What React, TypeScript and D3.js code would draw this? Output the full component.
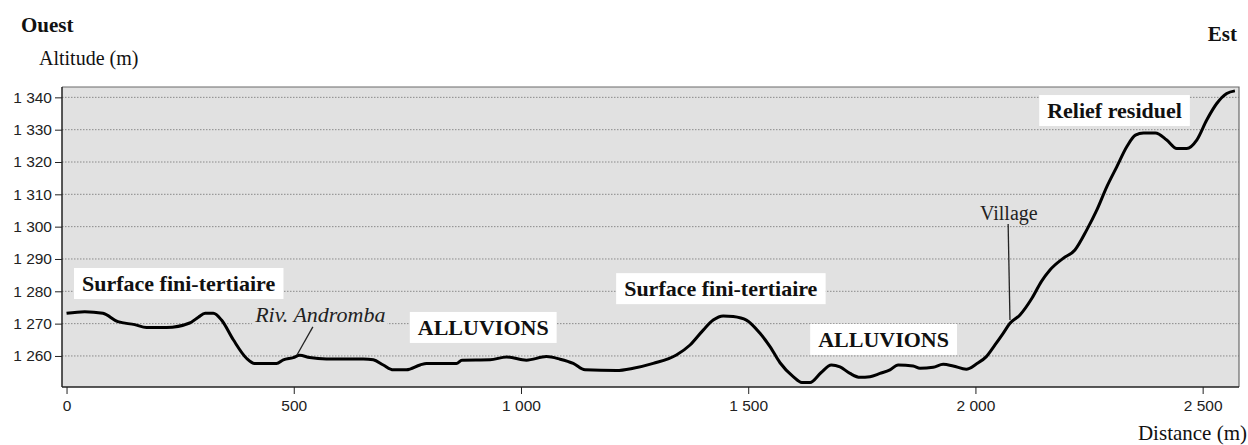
import React, { useRef, useEffect } from 'react';
import * as d3 from 'd3';

// Profile: distance (m) -> altitude (m)
const distances = [
  0, 40, 80, 113, 150, 176, 220, 271, 290, 305, 323, 341, 367, 396, 414, 462, 477, 499,
  513, 535, 572, 653, 675, 697, 719, 748, 778, 792, 858, 870, 932, 968, 1012, 1056, 1086,
  1115, 1141, 1210, 1247, 1291, 1342, 1372, 1401, 1423, 1445, 1467, 1496, 1526, 1548, 1570,
  1599, 1618, 1636, 1660, 1683, 1702, 1724, 1746, 1768, 1790, 1812, 1830, 1863, 1878, 1907,
  1929, 1951, 1980, 2002, 2024, 2043, 2061, 2076, 2098, 2125, 2145, 2164, 2193, 2219, 2245,
  2267, 2289, 2311, 2333, 2352, 2370, 2396, 2421, 2443, 2465, 2487, 2509, 2531, 2553, 2571,
];
const altitudes = [
  1273.2, 1273.7, 1273.2, 1270.6, 1269.7, 1268.8, 1268.8, 1270.2, 1272.0, 1273.2, 1273.2,
  1271.1, 1265.0, 1259.3, 1257.7, 1257.7, 1258.8, 1259.5, 1260.2, 1259.5, 1259.1, 1259.1,
  1258.8, 1257.2, 1255.7, 1255.7, 1257.2, 1257.7, 1257.7, 1258.7, 1258.8, 1259.7, 1258.7,
  1259.8, 1259.0, 1257.7, 1255.7, 1255.5, 1256.2, 1257.7, 1260.3, 1263.4, 1268.0, 1271.1,
  1272.4, 1272.2, 1271.1, 1267.0, 1262.9, 1257.9, 1253.6, 1251.8, 1251.8, 1254.8, 1257.2,
  1256.6, 1254.6, 1253.4, 1253.6, 1254.6, 1255.7, 1257.2, 1256.9, 1256.2, 1256.5, 1257.4,
  1256.9, 1255.9, 1257.5, 1259.8, 1263.4, 1267.0, 1270.1, 1272.7, 1278.0, 1283.0, 1286.6,
  1290.2, 1292.8, 1299.0, 1305.1, 1312.3, 1318.5, 1324.7, 1328.3, 1329.0, 1329.0, 1326.8,
  1324.2, 1324.2, 1326.8, 1333.0, 1338.1, 1341.2, 1342.0,
];

const altitudeTicks = [1260, 1270, 1280, 1290, 1300, 1310, 1320, 1330, 1340];
const distanceTicks = [0, 500, 1000, 1500, 2000, 2500];

// Boxed zone labels, anchored at (distance, altitude) of their text start / baseline
const zoneLabels = ['Surface fini-tertiaire', 'ALLUVIONS', 'Surface fini-tertiaire', 'ALLUVIONS', 'Relief residuel'];
const zoneDistances = [34, 773, 1227, 1654, 2158];
const zoneAltitudes = [1280.1, 1266.5, 1278.5, 1262.8, 1333.6];

// Callouts: label position and the point the pointer line goes to
const calloutLabels = ['Riv. Andromba', 'Village'];
const calloutDistances = [415, 2010];
const calloutAltitudes = [1270.5, 1302.1];
const pointerFrom = [[542, 1269], [2072, 1300.8]];
const pointerTo = [[507, 1260.3], [2076, 1271.1]];

const W = 1248;
const H = 445;
const plot = { left: 62, right: 1239, top: 87, bottom: 387 };
const plotBg = '#e1e1e1';
const serif = '"Liberation Serif", "Times New Roman", serif';
const sans = '"Liberation Sans", Arial, sans-serif';

const fmt = d3.formatLocale({ decimal: ',', thousands: ' ', grouping: [3], currency: ['', ''] }).format(',');

const App: React.FC = () => {
  const svgRef = useRef<SVGSVGElement>(null);

  useEffect(() => {
    const svg = d3.select(svgRef.current);
    svg.selectAll('*').remove();

    const x = d3.scaleLinear().domain([-10, 2580]).range([plot.left, plot.right]);
    const y = d3.scaleLinear().domain([1250.4, 1343.2]).range([plot.bottom, plot.top]);

    // plot background
    svg.append('rect')
      .attr('x', plot.left).attr('y', plot.top)
      .attr('width', plot.right - plot.left).attr('height', plot.bottom - plot.top)
      .attr('fill', plotBg);

    // dotted grid
    svg.selectAll('.grid')
      .data(altitudeTicks)
      .enter().append('line')
      .attr('class', 'grid')
      .attr('x1', plot.left).attr('x2', plot.right)
      .attr('y1', d => y(d)).attr('y2', d => y(d))
      .attr('stroke', '#8a8a8a')
      .attr('stroke-width', 1)
      .attr('stroke-dasharray', '1.5,1.5');

    // frame top / right
    svg.append('path')
      .attr('d', `M${plot.left},${plot.top}H${plot.right}V${plot.bottom}`)
      .attr('fill', 'none')
      .attr('stroke', '#6a6a6a')
      .attr('stroke-width', 1.2);

    // axes
    const yAxis = svg.append('g')
      .attr('transform', `translate(${plot.left},0)`)
      .call(d3.axisLeft(y).tickValues(altitudeTicks).tickSize(7).tickPadding(3).tickFormat(d => fmt(d as number)));
    const xAxis = svg.append('g')
      .attr('transform', `translate(0,${plot.bottom})`)
      .call(d3.axisBottom(x).tickValues(distanceTicks).tickSize(7).tickPadding(6).tickFormat(d => fmt(d as number)));

    [yAxis, xAxis].forEach(ax => {
      ax.select('.domain').attr('stroke', '#222').attr('stroke-width', 1.5);
      ax.selectAll('.tick line').attr('stroke', '#222');
      ax.selectAll('text')
        .attr('fill', '#222')
        .style('font-family', sans)
        .style('font-size', '15.5px');
    });
    xAxis.select('.domain').attr('d', `M${plot.left},0H${plot.right}`);
    yAxis.select('.domain').attr('d', `M0,${plot.top}V${plot.bottom}`);

    // profile
    const line = d3.line<number>()
      .x((_, i) => x(distances[i]))
      .y(d => y(d))
      .curve(d3.curveMonotoneX);

    svg.append('path')
      .datum(altitudes)
      .attr('fill', 'none')
      .attr('stroke', '#000')
      .attr('stroke-width', 3)
      .attr('stroke-linejoin', 'round')
      .attr('d', line);

    // callouts
    calloutLabels.forEach((t, i) => {
      const g = svg.append('g');
      const bg = g.append('rect');
      const txt = g.append('text')
        .attr('x', x(calloutDistances[i]))
        .attr('y', y(calloutAltitudes[i]))
        .attr('fill', '#222')
        .style('font-family', serif)
        .style('font-size', i === 0 ? '22px' : '20px')
        .style('font-style', i === 0 ? 'italic' : 'normal')
        .text(t);
      if (i === 0) {
        const b = (txt.node() as SVGTextElement).getBBox();
        bg.attr('x', b.x - 2).attr('y', b.y + 4).attr('width', b.width + 4).attr('height', b.height - 6)
          .attr('fill', plotBg);
      }
      g.append('line')
        .attr('x1', x(pointerFrom[i][0])).attr('y1', y(pointerFrom[i][1]))
        .attr('x2', x(pointerTo[i][0])).attr('y2', y(pointerTo[i][1]))
        .attr('stroke', '#222')
        .attr('stroke-width', 1.3);
    });

    // boxed zone labels
    zoneLabels.forEach((t, i) => {
      const g = svg.append('g');
      const box = g.append('rect').attr('fill', '#fff');
      const txt = g.append('text')
        .attr('x', x(zoneDistances[i]))
        .attr('y', y(zoneAltitudes[i]))
        .attr('fill', '#111')
        .style('font-family', serif)
        .style('font-size', '22px')
        .style('font-weight', 'bold')
        .text(t);
      const b = (txt.node() as SVGTextElement).getBBox();
      box.attr('x', b.x - 8).attr('y', b.y - 3).attr('width', b.width + 16).attr('height', b.height + 6);
    });

    // titles outside the plot
    const outer = [
      { t: 'Ouest', x: 21, y: 32, bold: true, anchor: 'start', size: 21 },
      { t: 'Altitude (m)', x: 39, y: 65, bold: false, anchor: 'start', size: 20 },
      { t: 'Est', x: 1237, y: 41, bold: true, anchor: 'end', size: 21 },
      { t: 'Distance (m)', x: 1247, y: 440, bold: false, anchor: 'end', size: 21 },
    ];
    svg.selectAll('.outer')
      .data(outer)
      .enter().append('text')
      .attr('class', 'outer')
      .attr('x', d => d.x)
      .attr('y', d => d.y)
      .attr('text-anchor', d => d.anchor)
      .attr('fill', '#111')
      .style('font-family', serif)
      .style('font-size', d => `${d.size}px`)
      .style('font-weight', d => (d.bold ? 'bold' : 'normal'))
      .text(d => d.t);
  }, []);

  return (
    <svg
      ref={svgRef}
      width={W}
      height={H}
      style={{ position: 'absolute', left: 0, top: 0, background: '#fff' }}
    />
  );
};

export default App;
